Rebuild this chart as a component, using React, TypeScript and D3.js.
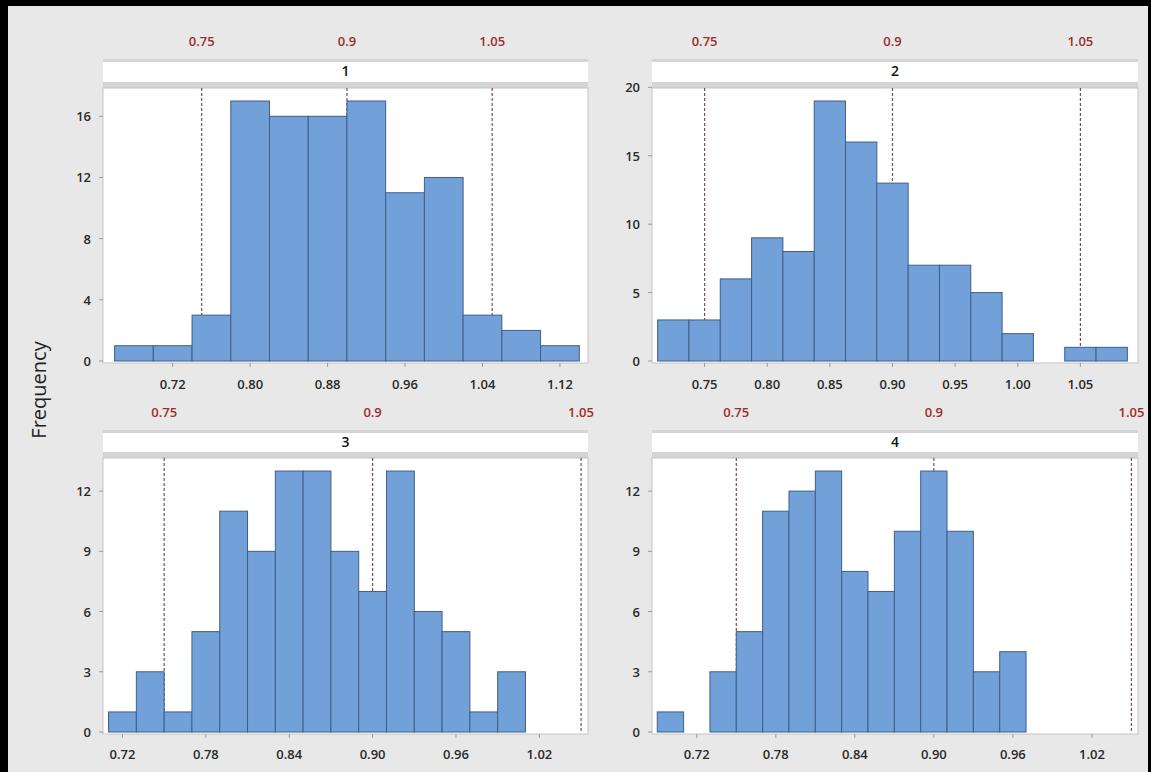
import * as d3 from 'd3';
import React from 'react';

// bin centres and counts
const bins1 = [0.68, 0.72, 0.76, 0.80, 0.84, 0.88, 0.92, 0.96, 1.00, 1.04, 1.08, 1.12];
const counts1 = [1, 1, 3, 17, 16, 16, 17, 11, 12, 3, 2, 1];

const bins2 = [0.725, 0.75, 0.775, 0.80, 0.825, 0.85, 0.875, 0.90, 0.925, 0.95, 0.975, 1.00, 1.025, 1.05, 1.075];
const counts2 = [3, 3, 6, 9, 8, 19, 16, 13, 7, 7, 5, 2, 0, 1, 1];

const bins3 = [0.72, 0.74, 0.76, 0.78, 0.80, 0.82, 0.84, 0.86, 0.88, 0.90, 0.92, 0.94, 0.96, 0.98, 1.00];
const counts3 = [1, 3, 1, 5, 11, 9, 13, 13, 9, 7, 13, 6, 5, 1, 3];

const bins4 = [0.70, 0.72, 0.74, 0.76, 0.78, 0.80, 0.82, 0.84, 0.86, 0.88, 0.90, 0.92, 0.94, 0.96];
const counts4 = [1, 0, 3, 5, 11, 12, 13, 8, 7, 10, 13, 10, 3, 4];

const xTicks1 = [0.72, 0.80, 0.88, 0.96, 1.04, 1.12];
const xTicks2 = [0.75, 0.80, 0.85, 0.90, 0.95, 1.00, 1.05];
const xTicks34 = [0.72, 0.78, 0.84, 0.90, 0.96, 1.02];

const yTicks1 = [0, 4, 8, 12, 16];
const yTicks2 = [0, 5, 10, 15, 20];
const yTicks34 = [0, 3, 6, 9, 12];

const refValues = [0.75, 0.9, 1.05];
const refLabels = ['0.75', '0.9', '1.05'];

const panelTitles = ['1', '2', '3', '4'];

const W = 1151;
const H = 772;

const cols = [
  { x: 103, w: 485 },
  { x: 652, w: 486 },
];
const rows = [
  { stripTop: 59, plotTop: 88, base: 361, bottom: 363, tickY: 384, refY: 46 },
  { stripTop: 430, plotTop: 458, base: 732, bottom: 734, tickY: 754, refY: 417 },
];

const panels = [
  { title: panelTitles[0], bins: bins1, counts: counts1, binW: 0.04, xDomain: [0.648, 1.149], xTicks: xTicks1, yTicks: yTicks1, col: 0, row: 0 },
  { title: panelTitles[1], bins: bins2, counts: counts2, binW: 0.025, xDomain: [0.708, 1.096], xTicks: xTicks2, yTicks: yTicks2, col: 1, row: 0 },
  { title: panelTitles[2], bins: bins3, counts: counts3, binW: 0.02, xDomain: [0.706, 1.055], xTicks: xTicks34, yTicks: yTicks34, col: 0, row: 1 },
  { title: panelTitles[3], bins: bins4, counts: counts4, binW: 0.02, xDomain: [0.686, 1.055], xTicks: xTicks34, yTicks: yTicks34, col: 1, row: 1 },
];

const font = '"Open Sans", "DejaVu Sans", sans-serif';

function Panel({ p }: { p: any }) {
  const c = cols[p.col];
  const r = rows[p.row];
  const x = d3.scaleLinear().domain(p.xDomain).range([c.x, c.x + c.w]);
  const y = d3.scaleLinear().domain([0, d3.max(p.counts as number[])! * 1.05]).range([r.base, r.plotTop]);
  const fmt = d3.format('.2f');

  return (
    <g>
      {/* strip */}
      <rect x={c.x} y={r.stripTop} width={c.w} height={r.plotTop - r.stripTop} fill="#d4d4d4" />
      <rect x={c.x} y={r.stripTop + 3} width={c.w} height={r.plotTop - r.stripTop - 9} fill="#ffffff" />
      <text x={c.x + c.w / 2} y={r.stripTop + 17} textAnchor="middle" fontSize={14} fontWeight={600} fill="#111" fontFamily={font}>{p.title}</text>
      {/* plot area */}
      <rect x={c.x} y={r.plotTop} width={c.w} height={r.bottom - r.plotTop} fill="#ffffff" stroke="#c4c4c4" strokeWidth={1} />
      {/* reference lines */}
      {refValues.map((v, i) => (
        <g key={'ref' + i}>
          <line x1={x(v)} x2={x(v)} y1={r.plotTop} y2={r.base} stroke="#7e4e4e" strokeWidth={1.2} strokeDasharray="3,2" />
          <text x={x(v)} y={r.refY} textAnchor="middle" fontSize={13} fontWeight={600} fill="#9b2d2d" fontFamily={font}>{refLabels[i]}</text>
        </g>
      ))}
      {/* bars */}
      {p.bins.map((b: number, i: number) => (
        p.counts[i] > 0 ? (
          <rect
            key={'bar' + i}
            x={x(b - p.binW / 2)}
            y={y(p.counts[i])}
            width={x(b + p.binW / 2) - x(b - p.binW / 2)}
            height={r.base - y(p.counts[i])}
            fill="#72a0d8"
            stroke="#3f5f8a"
            strokeWidth={1}
          />
        ) : null
      ))}
      {/* y axis */}
      {p.yTicks.map((t: number) => (
        <g key={'y' + t}>
          <line x1={c.x - 4} x2={c.x} y1={y(t)} y2={y(t)} stroke="#9a9a9a" />
          <text x={c.x - 12} y={y(t) + 5} textAnchor="end" fontSize={13} fontWeight={600} fill="#2a2a2a" fontFamily={font}>{t}</text>
        </g>
      ))}
      {/* x axis */}
      {p.xTicks.map((t: number) => (
        <g key={'x' + t}>
          <line x1={x(t)} x2={x(t)} y1={r.bottom} y2={r.bottom + 4} stroke="#9a9a9a" />
          <text x={x(t)} y={r.tickY + 5} textAnchor="middle" fontSize={13} fontWeight={600} fill="#2a2a2a" fontFamily={font}>{fmt(t)}</text>
        </g>
      ))}
    </g>
  );
}

export default function App() {
  return (
    <svg width={W} height={H} style={{ position: 'absolute', left: 0, top: 0, display: 'block' }}>
      <rect x={0} y={0} width={W} height={H} fill="#e8e8e8" />
      {panels.map((p, i) => <Panel key={i} p={p} />)}
      <text
        transform={`translate(46, 390) rotate(-90)`}
        textAnchor="middle"
        fontSize={20}
        fill="#222"
        fontFamily={font}
      >
        Frequency
      </text>
      {/* black frame */}
      <rect x={0} y={0} width={W} height={6} fill="#000" />
      <rect x={0} y={0} width={8} height={H} fill="#000" />
      <rect x={W - 3} y={0} width={3} height={H} fill="#000" />
    </svg>
  );
}
